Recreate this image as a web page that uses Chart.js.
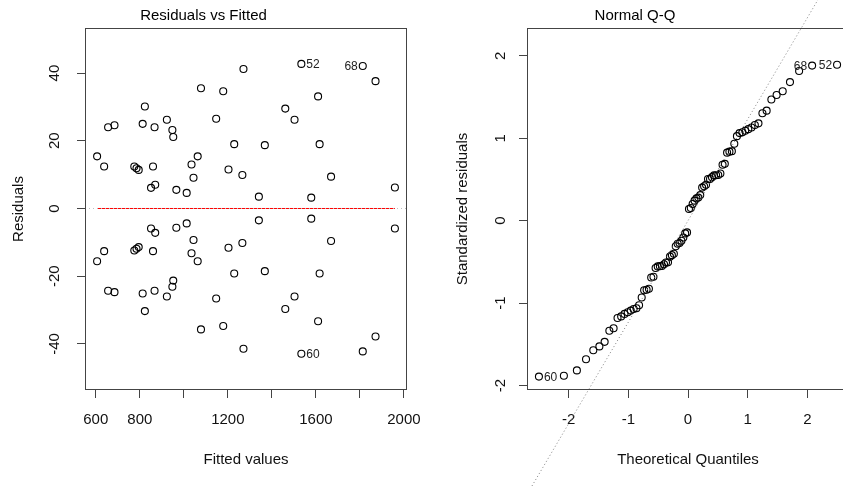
<!DOCTYPE html>
<html>
<head>
<meta charset="utf-8">
<script src="https://cdn.jsdelivr.net/npm/chart.js@4.4.0/dist/chart.umd.min.js"></script>
<style>
  body { margin: 0; overflow: hidden; background: #fff; width: 843px; height: 487px; position: relative; }
  canvas { position: absolute; top: 0; }
  #residPlot { left: 0; }
  #qqPlot { left: 421px; }
</style>
</head>
<body>
<canvas id="residPlot" width="421" height="487"></canvas>
<canvas id="qqPlot" width="440" height="487"></canvas>
<script>
// Residuals vs Fitted (each fitted value has one point above and one below zero)
const fitted = [606, 638, 656, 685, 775, 785, 795, 813, 823, 851, 860, 867, 870, 923, 948, 952, 966, 1013, 1035, 1044,
  1063, 1078, 1147, 1179, 1203, 1229, 1266, 1271, 1341, 1368, 1461, 1503, 1534, 1579, 1610, 1617, 1669, 1813, 1871, 1959];
const residAbove = [15.4, 12.4, 24.0, 24.6, 12.4, 11.9, 11.4, 25.0, 30.1, 6.1, 12.4, 24.0, 7.0, 26.2, 23.2, 21.1, 5.5, 4.6, 13.0, 9.1,
  15.4, 35.5, 26.5, 34.6, 11.5, 19.0, 9.9, 41.2, 3.5, 18.7, 29.5, 26.2, 42.7, 3.2, 33.1, 19.0, 9.4, 42.1, 37.6, 6.2];
const residBelow = [-15.6, -12.6, -24.3, -24.7, -12.4, -11.9, -11.4, -25.1, -30.3, -5.9, -12.6, -24.3, -7.2, -26.0, -23.1, -21.3, -5.7, -4.4, -13.2, -9.3,
  -15.6, -35.7, -26.6, -34.7, -11.6, -19.2, -10.2, -41.4, -3.5, -18.5, -29.7, -26.0, -42.9, -3.0, -33.3, -19.2, -9.6, -42.2, -37.8, -5.9];
const smoothX = [606, 1959];
const smoothY = [0, 0];
const fittedRange = [551, 2014];
const residRange = [-53.6, 53.3];
const fittedTicks = [600, 800, 1000, 1200, 1400, 1600, 1800, 2000];
const fittedTickLabels = ['600', '800', '', '1200', '', '1600', '', '2000'];
const residTicks = [-40, -20, 0, 20, 40];
const residLabelText = ['52', '68', '60'];
const residLabelX = [1534, 1813, 1534];
const residLabelY = [42.7, 42.1, -42.9];

// Normal Q-Q
const qqTheoretical = [-2.498, -2.080, -1.862, -1.709, -1.587, -1.485, -1.397, -1.318, -1.247, -1.181,
  -1.120, -1.064, -1.010, -0.959, -0.911, -0.864, -0.820, -0.776, -0.735, -0.694,
  -0.655, -0.617, -0.579, -0.543, -0.507, -0.471, -0.436, -0.402, -0.369, -0.335,
  -0.302, -0.270, -0.237, -0.205, -0.173, -0.142, -0.110, -0.078, -0.047, -0.016,
  0.016, 0.047, 0.078, 0.110, 0.142, 0.173, 0.205, 0.237, 0.270, 0.302,
  0.335, 0.369, 0.402, 0.436, 0.471, 0.507, 0.543, 0.579, 0.617, 0.655,
  0.694, 0.735, 0.776, 0.820, 0.864, 0.911, 0.959, 1.010, 1.064, 1.120,
  1.181, 1.247, 1.318, 1.397, 1.485, 1.587, 1.709, 1.862, 2.080, 2.498];
const qqStandardized = [-1.890, -1.880, -1.815, -1.680, -1.570, -1.524, -1.469, -1.334, -1.303, -1.180,
  -1.160, -1.130, -1.110, -1.090, -1.071, -1.062, -1.025, -0.932, -0.843, -0.837,
  -0.825, -0.689, -0.679, -0.573, -0.554, -0.551, -0.549, -0.528, -0.506, -0.505,
  -0.436, -0.418, -0.401, -0.310, -0.280, -0.270, -0.243, -0.203, -0.154, -0.142,
  0.142, 0.154, 0.203, 0.243, 0.270, 0.280, 0.310, 0.401, 0.418, 0.436,
  0.505, 0.506, 0.528, 0.549, 0.551, 0.554, 0.573, 0.679, 0.689, 0.825,
  0.837, 0.843, 0.932, 1.025, 1.062, 1.071, 1.090, 1.110, 1.130, 1.160,
  1.180, 1.303, 1.334, 1.469, 1.524, 1.570, 1.680, 1.815, 1.880, 1.890];
const qqLineX = [-3, 3];
const qqLineY = [-3.69, 3.69];
const qqXRange = [-2.698, 2.698];
const qqYRange = [-2.0525, 2.336];
const qqTicks = [-2, -1, 0, 1, 2];
const qqLabelText = ['60', '68', '52'];
const qqLabelX = [-2.498, 2.080, 2.498];
const qqLabelY = [-1.890, 1.880, 1.890];

const fontFamily = "'Liberation Sans', Arial, Helvetica, sans-serif";
const ink = '#444';
const textFont = { size: 15, family: fontFamily, lineHeight: 1.2 };

function toPoints(xs, ys) {
  return xs.map((x, i) => ({ x: x, y: ys[i] }));
}

function fixSize(prop, size) {
  return scale => {
    scale[prop] = size;
    scale.paddingLeft = scale.paddingRight = scale.paddingTop = scale.paddingBottom = 0;
  };
}

function setTicks(values) {
  return scale => { scale.ticks = values.map(v => ({ value: v })); };
}

const boxPlugin = {
  id: 'box',
  afterDatasetsDraw(chart) {
    const { ctx, chartArea: a } = chart;
    ctx.save();
    ctx.strokeStyle = ink;
    ctx.lineWidth = 1;
    ctx.strokeRect(Math.round(a.left) + 0.5, Math.round(a.top) + 0.5,
      Math.round(a.right - a.left) - 1, Math.round(a.bottom - a.top) - 1);
    ctx.restore();
  }
};

const pointLabels = {
  id: 'pointLabels',
  afterDatasetsDraw(chart, args, opts) {
    const { ctx, scales: { x, y } } = chart;
    ctx.save();
    ctx.font = '12px ' + fontFamily;
    ctx.fillStyle = '#222';
    ctx.textBaseline = 'middle';
    opts.items.forEach(it => {
      const px = x.getPixelForValue(it.x);
      const py = y.getPixelForValue(it.y);
      ctx.textAlign = it.side === 'left' ? 'right' : 'left';
      ctx.fillText(it.text, px + (it.side === 'left' ? -5 : 5), py + 1);
    });
    ctx.restore();
  }
};

function axisGrid() {
  return { display: true, drawOnChartArea: false, drawTicks: true, tickLength: 8, color: ink, lineWidth: 1 };
}

function pointDataset(data) {
  return {
    data: data,
    order: 2,
    pointStyle: 'circle',
    pointRadius: 3.5,
    pointBorderWidth: 1.1,
    pointBorderColor: '#000',
    pointBackgroundColor: 'rgba(0,0,0,0)',
    showLine: false
  };
}

function titleOpts(text) {
  return { display: true, text: text, color: '#000', font: { ...textFont, weight: 'normal' }, padding: { top: 6.8, bottom: 3.2 } };
}

new Chart(document.getElementById('residPlot'), {
  type: 'scatter',
  data: {
    datasets: [
      {
        data: toPoints(fittedRange, [0, 0]),
        order: 0, showLine: true, borderColor: '#bebebe', borderWidth: 1, borderDash: [1, 3], pointRadius: 0
      },
      {
        data: toPoints(smoothX, smoothY),
        order: 1, showLine: true, borderColor: '#ff0000', borderWidth: 1, pointRadius: 0
      },
      pointDataset(toPoints(fitted, residAbove).concat(toPoints(fitted, residBelow)))
    ]
  },
  options: {
    responsive: false,
    animation: false,
    layout: { padding: { left: 0, right: 14, top: 0, bottom: 0 } },
    plugins: {
      legend: { display: false },
      tooltip: { enabled: false },
      title: titleOpts('Residuals vs Fitted'),
      pointLabels: {
        items: residLabelText.map((t, i) => ({ text: t, x: residLabelX[i], y: residLabelY[i], side: i === 1 ? 'left' : 'right' }))
      }
    },
    scales: {
      x: {
        type: 'linear', min: fittedRange[0], max: fittedRange[1],
        afterBuildTicks: setTicks(fittedTicks),
        afterFit: fixSize('height', 97),
        grid: axisGrid(),
        border: { display: false },
        ticks: { color: '#111', font: textFont, padding: 13, autoSkip: false, minRotation: 0, maxRotation: 0,
          callback: (v, i) => fittedTickLabels[i] },
        title: { display: true, text: 'Fitted values', color: '#111', font: textFont, padding: { top: 0, bottom: 18.5 } }
      },
      y: {
        type: 'linear', min: residRange[0], max: residRange[1],
        afterBuildTicks: setTicks(residTicks),
        afterFit: fixSize('width', 85),
        grid: axisGrid(),
        border: { display: false },
        ticks: { color: '#111', font: textFont, padding: 11, minRotation: 90, maxRotation: 90, crossAlign: 'center',
          callback: v => String(v) },
        title: { display: true, text: 'Residuals', color: '#111', font: textFont, padding: { top: 9.8, bottom: 0 } }
      }
    }
  },
  plugins: [boxPlugin, pointLabels]
});

new Chart(document.getElementById('qqPlot'), {
  type: 'scatter',
  data: {
    datasets: [
      {
        data: toPoints(qqLineX, qqLineY),
        order: 0, showLine: true, clip: false, borderColor: '#7f7f7f', borderWidth: 1, borderDash: [1, 2.5], pointRadius: 0
      },
      pointDataset(toPoints(qqTheoretical, qqStandardized))
    ]
  },
  options: {
    responsive: false,
    animation: false,
    layout: { padding: { left: 0, right: 12, top: 0, bottom: 0 } },
    plugins: {
      legend: { display: false },
      tooltip: { enabled: false },
      title: titleOpts('Normal Q-Q'),
      pointLabels: {
        items: qqLabelText.map((t, i) => ({ text: t, x: qqLabelX[i], y: qqLabelY[i], side: i === 0 ? 'right' : 'left' }))
      }
    },
    scales: {
      x: {
        type: 'linear', min: qqXRange[0], max: qqXRange[1],
        afterBuildTicks: setTicks(qqTicks),
        afterFit: fixSize('height', 97),
        grid: axisGrid(),
        border: { display: false },
        ticks: { color: '#111', font: textFont, padding: 13, autoSkip: false, minRotation: 0, maxRotation: 0,
          callback: v => String(v) },
        title: { display: true, text: 'Theoretical Quantiles', color: '#111', font: textFont, padding: { top: 0, bottom: 18.5 } }
      },
      y: {
        type: 'linear', min: qqYRange[0], max: qqYRange[1],
        afterBuildTicks: setTicks(qqTicks),
        afterFit: fixSize('width', 106),
        grid: axisGrid(),
        border: { display: false },
        ticks: { color: '#111', font: textFont, padding: 11.5, minRotation: 90, maxRotation: 90, crossAlign: 'center',
          callback: v => String(v) },
        title: { display: true, text: 'Standardized residuals', color: '#111', font: textFont, padding: { top: 32.5, bottom: 0 } }
      }
    }
  },
  plugins: [boxPlugin, pointLabels]
});
</script>
</body>
</html>
